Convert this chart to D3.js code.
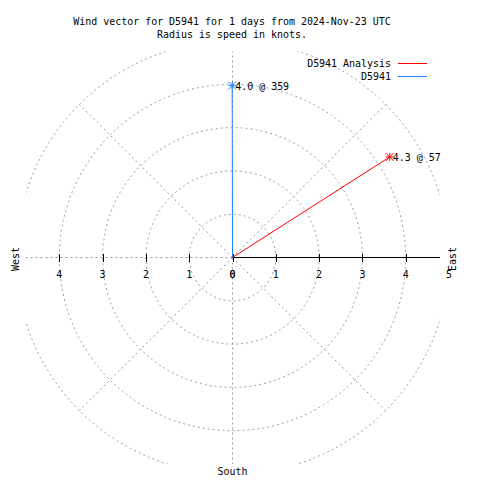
<!DOCTYPE html>
<html><head><meta charset="utf-8">
<script src="https://cdn.jsdelivr.net/npm/d3@7"></script>
<style>body{margin:0;background:#fff}svg{display:block}</style>
</head><body>
<script>
// ---- data ----
const titleLines = ["Wind vector for D5941 for 1 days from 2024-Nov-23 UTC", "Radius is speed in knots."];
const seriesNames = ["D5941 Analysis", "D5941"];
const speeds = [4.31, 3.97];          // knots
const directions = [57.4, 359.9];     // degrees (compass)
const seriesColors = ["#ff0000", "#1f7fff"];
const rightTicks = [0, 1, 2, 3, 4, 5];
const leftTicks = [0, 1, 2, 3, 4];
const gridRings = [1, 2, 3, 4, 5];
const gridAngles = [0, 45, 90, 135, 180, 225, 270, 315];

const W = 480, H = 480, cx = 232.5, cy = 257.5;
const r = d3.scaleLinear().domain([0, 5]).range([0, 216.5]);
const clip = {x0: 26, x1: 439.5, y0: 51.5, y1: 464};
const FONT = "DejaVu Sans Mono";
const FS = 11, SX = 0.905;

const svg = d3.select("body").append("svg").attr("width", W).attr("height", H);
svg.append("defs").append("clipPath").attr("id", "pc").append("rect")
  .attr("x", clip.x0).attr("y", clip.y0).attr("width", clip.x1 - clip.x0).attr("height", clip.y1 - clip.y0);

function txt(g, s, x, y, anchor, rot) {
  return g.append("text")
    .attr("transform", `translate(${x},${y})` + (rot ? ` rotate(${rot})` : "") + ` scale(${SX},1)`)
    .attr("text-anchor", anchor || "start")
    .attr("dominant-baseline", "central")
    .attr("font-family", FONT).attr("font-size", FS).attr("fill", "#000")
    .text(s);
}
const pt = (spd, dir) => {
  const a = dir * Math.PI / 180;
  return [cx + r(spd) * Math.sin(a), cy - r(spd) * Math.cos(a)];
};

// grid
const grid = svg.append("g").attr("clip-path", "url(#pc)")
  .attr("fill", "none").attr("stroke", "#9a9a9a").attr("stroke-width", 1).attr("stroke-dasharray", "2,3");
grid.selectAll("circle").data(gridRings).join("circle")
  .attr("cx", cx).attr("cy", cy).attr("r", d => r(d));
grid.selectAll("line").data(gridAngles).join("line")
  .attr("x1", cx).attr("y1", cy)
  .attr("x2", d => pt(5, d)[0]).attr("y2", d => pt(5, d)[1]);

// axis (solid to the right)
const ax = svg.append("g").attr("stroke", "#000").attr("shape-rendering", "crispEdges");
ax.append("line").attr("x1", cx).attr("x2", clip.x1).attr("y1", cy).attr("y2", cy);
ax.selectAll("line.tr").data(rightTicks.filter(d => cx + r(d) <= clip.x1)).join("line").attr("class", "tr")
  .attr("x1", d => Math.round(cx + r(d)) + 0.5).attr("x2", d => Math.round(cx + r(d)) + 0.5)
  .attr("y1", cy - 4).attr("y2", cy + 4);
ax.selectAll("line.tl").data(leftTicks).join("line").attr("class", "tl")
  .attr("x1", d => Math.round(cx - r(d)) + 0.5).attr("x2", d => Math.round(cx - r(d)) + 0.5)
  .attr("y1", cy - 4).attr("y2", cy + 4);

const lab = svg.append("g");
rightTicks.forEach(d => txt(lab, String(d), cx + r(d), cy + 16, "middle"));
leftTicks.forEach(d => txt(lab, String(d), cx - r(d), cy + 16, "middle"));

// compass labels
txt(lab, "West", 15, 259, "middle", -90);
txt(lab, "East", 452, 259, "middle", -90);
txt(lab, "South", cx, 471, "middle");

// vectors
const vec = svg.append("g");
speeds.forEach((s, i) => {
  const [x, y] = pt(s, directions[i]);
  const c = seriesColors[i];
  vec.append("line").attr("x1", cx).attr("y1", cy).attr("x2", x).attr("y2", y)
    .attr("stroke", c).attr("stroke-width", 1);
  const k = 4;
  const star = vec.append("g").attr("stroke", c).attr("stroke-width", 1).attr("transform", `translate(${x},${y})`);
  star.append("line").attr("x1", -k).attr("x2", k).attr("y1", 0).attr("y2", 0);
  star.append("line").attr("x1", 0).attr("x2", 0).attr("y1", -k).attr("y2", k);
  star.append("line").attr("x1", -k).attr("x2", k).attr("y1", -k).attr("y2", k);
  star.append("line").attr("x1", -k).attr("x2", k).attr("y1", k).attr("y2", -k);
  txt(vec, `${s.toFixed(1)} @ ${Math.floor(directions[i])}`, x + 3, y, "start");
});

// title
titleLines.forEach((t, i) => txt(svg, t, 232, 20.5 + i * 13, "middle"));

// legend
const leg = svg.append("g");
seriesNames.forEach((n, i) => {
  const y = 63 + i * 13;
  txt(leg, n, 391, y, "end");
  leg.append("line").attr("x1", 398).attr("x2", 427).attr("y1", Math.round(y) + 0.5).attr("y2", Math.round(y) + 0.5)
    .attr("stroke", seriesColors[i]).attr("stroke-width", 1);
});
</script>
</body></html>
